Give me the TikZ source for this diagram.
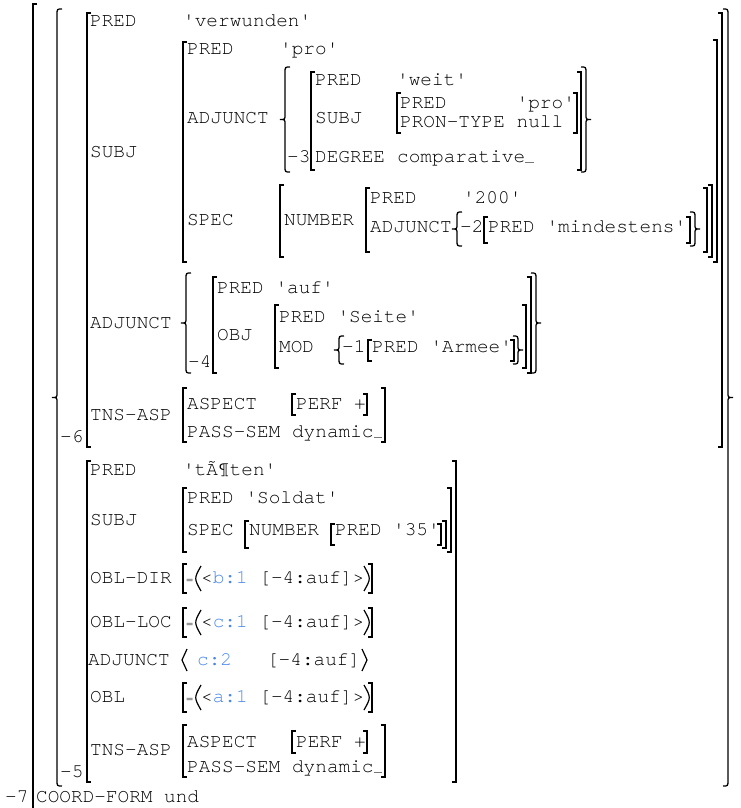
\documentclass[tikz,border=0pt]{standalone}
\usepackage{fontspec}
\newfontfamily\avmfamily{texgyrecursor-regular.otf}[Ligatures=TeXOff]
\usepackage{xcolor}
\usepackage{tikz}
\definecolor{idblue}{RGB}{72,134,232}
\definecolor{tailgray}{RGB}{120,120,120}

\newcommand{\avmfont}{\avmfamily\fontsize{19.4}{20}\selectfont}
% brackets, braces, parentheses, angles: x, top, bottom
\newcommand{\lbrk}[3]{\draw[brk] (#1+4,#2) -- (#1,#2) -- (#1,#3) -- (#1+4,#3);}
\newcommand{\rbrk}[3]{\draw[brk] (#1-4,#2) -- (#1,#2) -- (#1,#3) -- (#1-4,#3);}
\newcommand{\lbrc}[3]{\pgfmathsetmacro{\brcmid}{(#2+#3)/2}%
  \draw[brk] (#1+5,#2) .. controls (#1,#2) .. (#1,#2+6) -- (#1,\brcmid-5)
    .. controls (#1,\brcmid) .. (#1-5,\brcmid) .. controls (#1,\brcmid) .. (#1,\brcmid+5)
    -- (#1,#3-6) .. controls (#1,#3) .. (#1+5,#3);}
\newcommand{\rbrc}[3]{\pgfmathsetmacro{\brcmid}{(#2+#3)/2}%
  \draw[brk] (#1-5,#2) .. controls (#1,#2) .. (#1,#2+6) -- (#1,\brcmid-5)
    .. controls (#1,\brcmid) .. (#1+5,\brcmid) .. controls (#1,\brcmid) .. (#1,\brcmid+5)
    -- (#1,#3-6) .. controls (#1,#3) .. (#1-5,#3);}
\newcommand{\lpar}[3]{\draw[parbrk] (#1+5,#2) .. controls ({#1-2},{(#2+#3)/2}) .. (#1+5,#3);}
\newcommand{\rpar}[3]{\draw[parbrk] (#1-5,#2) .. controls ({#1+2},{(#2+#3)/2}) .. (#1-5,#3);}
\newcommand{\lang}[3]{\draw[parbrk] (#1+5,#2) -- (#1,{(#2+#3)/2}) -- (#1+5,#3);}
\newcommand{\rang}[3]{\draw[parbrk] (#1-5,#2) -- (#1,{(#2+#3)/2}) -- (#1-5,#3);}

\begin{document}
\begin{tikzpicture}[
    x=1pt, y=-1pt,
    every node/.style={font=\avmfont, anchor=base west, inner sep=0pt},
    idtext/.style={text=idblue},
    eqsign/.style={font=\avmfamily\fontsize{12}{12}\selectfont},
    brk/.style={line width=1.3pt},
    parbrk/.style={line width=1.2pt},
    tail/.style={tailgray, line width=1pt}
]
\useasboundingbox (0,0) rectangle (741,808);

% Outer structure -7
\lbrk{33}{4}{815}
\node (l7) at (5,802) {-7};
\node (cform) at (36,802) {COORD-FORM};
\node (cformv) at (164,802) {und};

% Set of conjuncts
\lbrc{57}{9}{786}
\rbrc{728}{9}{786}

% Conjunct -6
\lbrk{87}{13}{447}
\rbrk{722}{13}{447}
\node (l6) at (60,442) {-6};
\node (pred6) at (90,27) {PRED};
\node (pred6v) at (183,27) {'verwunden'};
\node (subj6) at (90,157) {SUBJ};

% Subject of -6
\lbrk{183}{42}{262}
\rbrk{717}{40}{262}
\node (spred) at (187,55) {PRED};
\node (spredv) at (280,55) {'pro'};
\node (sadj) at (187,123) {ADJUNCT};
\lbrc{285}{67}{172}
\rbrc{586}{67}{172}
\node (l3) at (287,162) {-3};
\lbrk{311}{72}{170}
\rbrk{581}{72}{170}
\node (wpred) at (315,85) {PRED};
\node (wpredv) at (397,85) {'weit'};
\node (wsubj) at (315,123) {SUBJ};
\lbrk{397}{93}{133}
\rbrk{577}{93}{133}
\node (ppred) at (400,108) {PRED};
\node (ppredv) at (516.5,108) {'pro'};
\node (ptype) at (400,127) {PRON-TYPE};
\node (ptypev) at (516.5,127) {null};
\node (wdeg) at (315,162) {DEGREE};
\node (wdegv) at (397,162) {comparative};
\draw[tail] ([yshift=-0.5pt]wdegv.base east) -- ++(9,0);

\node (sspec) at (187,225) {SPEC};
\lbrk{280}{185}{257}
\rbrk{712}{185}{257}
\node (snum) at (284,225) {NUMBER};
\lbrk{366}{188}{252}
\rbrk{707}{188}{252}
\node (npred) at (370,203) {PRED};
\node (npredv) at (463,203) {'200'};
\node (nadj) at (370,232) {ADJUNCT};
\lbrc{457}{212}{246}
\rbrc{695}{212}{246}
\node (l2) at (460,232) {-2};
\lbrk{484}{217}{243}
\rbrk{690}{217}{243}
\node (mpred) at (488,232) {PRED};
\node (mpredv) at (546.3,232) {'mindestens'};

% Adjunct of -6
\node (adj6) at (90,328) {ADJUNCT};
\lbrc{186}{273}{373}
\rbrc{536}{273}{373}
\node (l4) at (188,367) {-4};
\lbrk{213}{277}{373}
\rbrk{531}{277}{373}
\node (apred) at (217,293) {PRED};
\node (apredv) at (275.3,293) {'auf'};
\node (aobj) at (217,340) {OBJ};
\lbrk{275}{305}{368}
\rbrk{526}{305}{368}
\node (opred) at (279,322) {PRED};
\node (opredv) at (337.3,322) {'Seite'};
\node (omod) at (279,352) {MOD};
\lbrc{339}{336}{364}
\rbrc{518}{336}{364}
\node (l1) at (342,352) {-1};
\lbrk{368}{340}{361}
\rbrk{514}{340}{361}
\node (rpred) at (372,352) {PRED};
\node (rpredv) at (430.3,352) {'Armee'};

% Tense/aspect of -6
\node (tns6) at (90,420) {TNS-ASP};
\lbrk{183}{388}{442}
\rbrk{385}{388}{442}
\node (asp6) at (187,409) {ASPECT};
\lbrk{292}{394}{415}
\rbrk{367}{394}{415}
\node (perf6) at (296,409) {PERF};
\node (perf6v) at (354,409) {+};
\node (pass6) at (187,437) {PASS-SEM};
\node (pass6v) at (291.9,437) {dynamic};
\draw[tail] ([yshift=-0.5pt]pass6v.base east) -- ++(8,0);

% Conjunct -5
\lbrk{87}{461}{782}
\rbrk{456}{461}{782}
\node (l5) at (60,777) {-5};
\node (pred5) at (90,475) {PRED};
\node (pred5v) at (183,475) {'tÃ¶ten'};
\node (subj5) at (90,525) {SUBJ};
\lbrk{183}{488}{552}
\rbrk{451}{488}{552}
\node (tpred) at (187,503) {PRED};
\node (tpredv) at (245.3,503) {'Soldat'};
\node (tspec) at (187,535) {SPEC};
\lbrk{245}{521}{548}
\rbrk{446}{521}{548}
\node (tnum) at (249,535) {NUMBER};
\lbrk{331}{524}{545}
\rbrk{441}{524}{545}
\node (qpred) at (335,535) {PRED};
\node (qpredv) at (393,535) {'35'};

% Obliques
\node (obldir) at (90,583) {OBL-DIR};
\lbrk{183}{564}{593}
\node[eqsign] (eqdir) at (186,583) {=};
\lpar{196}{566}{591}
\node (obldirv) at (201,583) {<\textcolor{idblue}{b:1} [-4:auf]>};
\rpar{369}{566}{591}
\rbrk{372}{564}{593}

\node (oblloc) at (90,627) {OBL-LOC};
\lbrk{183}{608}{637}
\node[eqsign] (eqloc) at (186,627) {=};
\lpar{196}{610}{635}
\node (obllocv) at (201,627) {<\textcolor{idblue}{c:1} [-4:auf]>};
\rpar{369}{610}{635}
\rbrk{372}{608}{637}

\node (adj5) at (88,665) {ADJUNCT};
\lang{182}{649}{671}
\node[idtext] (adj5id) at (197,665) {c:2};
\node (adj5v) at (266.9,665) {[-4:auf]};
\rang{367}{649}{671}

\node (obl) at (90,702) {OBL};
\lbrk{183}{683}{712}
\node[eqsign] (eqobl) at (186,702) {=};
\lpar{196}{685}{710}
\node (oblv) at (201,702) {<\textcolor{idblue}{a:1} [-4:auf]>};
\rpar{369}{685}{710}
\rbrk{372}{683}{712}

% Tense/aspect of -5
\node (tns5) at (90,755) {TNS-ASP};
\lbrk{183}{725}{777}
\rbrk{385}{725}{777}
\node (asp5) at (187,747) {ASPECT};
\lbrk{292}{731}{753}
\rbrk{367}{731}{753}
\node (perf5) at (296,747) {PERF};
\node (perf5v) at (354,747) {+};
\node (pass5) at (187,772) {PASS-SEM};
\node (pass5v) at (291.9,772) {dynamic};
\draw[tail] ([yshift=-0.5pt]pass5v.base east) -- ++(8,0);

\end{tikzpicture}
\end{document}
